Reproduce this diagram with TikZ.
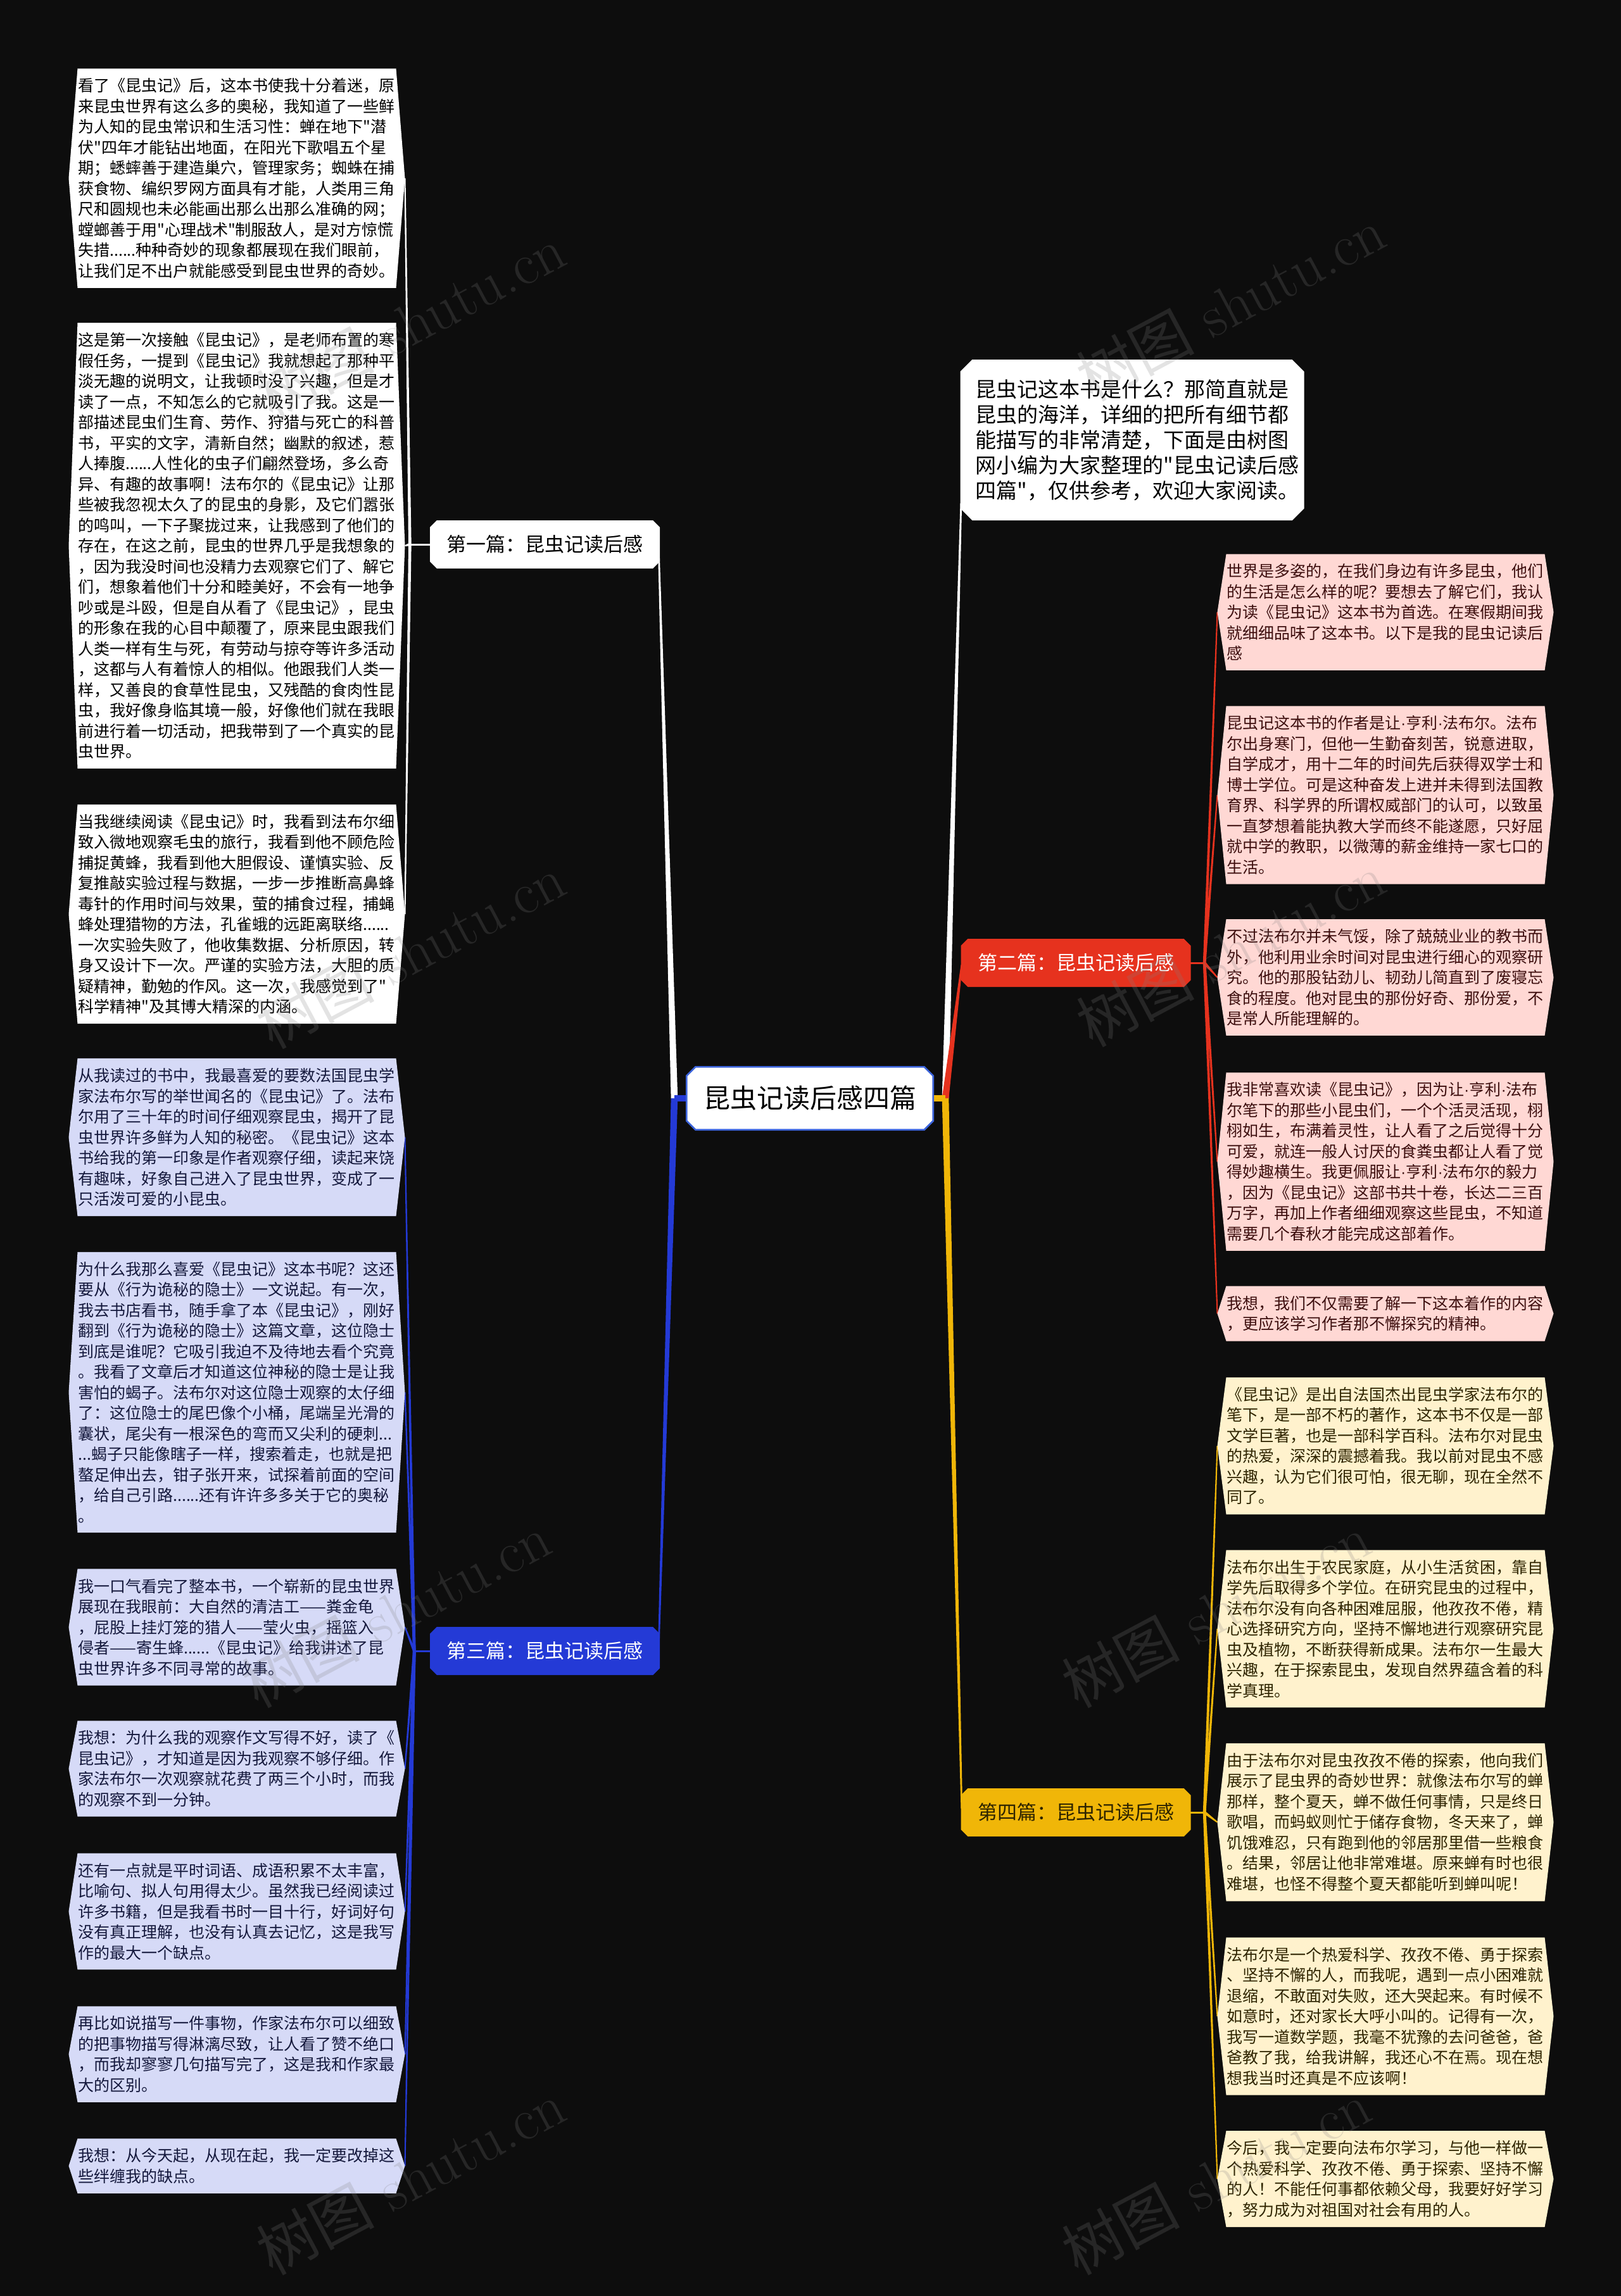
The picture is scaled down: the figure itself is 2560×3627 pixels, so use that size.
\documentclass[tikz,border=0pt]{standalone}
\usepackage{fontspec}
\newfontfamily\cjk{Noto Sans CJK SC}
\newfontfamily\latn{Liberation Sans}
\usetikzlibrary{calc}
\setlength\parindent{0pt}
\pgfdeclarelayer{bg}
\pgfdeclarelayer{shp}
\pgfsetlayers{bg,shp,main}
\definecolor{bgc}{RGB}{13,13,13}
\definecolor{redb}{RGB}{230,50,30}
\definecolor{redl}{RGB}{255,216,212}
\definecolor{redt}{RGB}{60,14,14}
\definecolor{blueb}{RGB}{36,58,214}
\definecolor{bluel}{RGB}{214,218,247}
\definecolor{bluet}{RGB}{20,24,60}
\definecolor{yelb}{RGB}{240,182,8}
\definecolor{yell}{RGB}{255,242,205}
\definecolor{yelt}{RGB}{46,36,0}
\definecolor{cborder}{RGB}{60,100,220}
\newcommand{\md}{{\latn ·}}
\newcommand{\hexfill}[2]{\fill[#2] ($(#1.north west)+(14,0)$) -- ($(#1.north east)+(-14,0)$) -- (#1.east) -- ($(#1.south east)+(-14,0)$) -- ($(#1.south west)+(14,0)$) -- (#1.west) -- cycle;}
\newcommand{\chamfill}[4]{\filldraw[fill=#2,draw=#3,line width=0.8pt] ($(#1.north west)+(#4,0)$) -- ($(#1.north east)+(-#4,0)$) -- ($(#1.north east)+(0,#4)$) -- ($(#1.south east)+(0,-#4)$) -- ($(#1.south east)+(-#4,0)$) -- ($(#1.south west)+(#4,0)$) -- ($(#1.south west)+(0,-#4)$) -- ($(#1.north west)+(0,#4)$) -- cycle;}
\newcommand{\mmtaper}[5]{\fill[#1] ($(#2)!#4!90:(#3)$) -- ($(#3)!#5!-90:(#2)$) -- ($(#3)!#5!90:(#2)$) -- ($(#2)!#4!-90:(#3)$) -- cycle;}
\begin{document}
\begin{tikzpicture}[x=0.3pt,y=-0.3pt,
  leaf/.style={inner xsep=4.2pt,inner ysep=4.4pt,text width=150.5pt,align=left,font=\cjk\fontsize{7.5pt}{9.75pt}\selectfont},
  lab/.style={inner sep=0pt,minimum width=107.7pt,minimum height=21.6pt,font=\cjk\fontsize{9.3pt}{11pt}\selectfont},
  ctrbox/.style={inner sep=0pt,minimum width=116.4pt,minimum height=29.4pt,font=\cjk\fontsize{12.6pt}{15pt}\selectfont,text=black},
  introbox/.style={inner xsep=6.6pt,inner ysep=8.5pt,text width=148.5pt,align=left,minimum height=75pt,font=\cjk\fontsize{9.9pt}{12pt}\selectfont,text=black},
  wm/.style={text=gray,opacity=0.22,font=\fontsize{28pt}{30pt}\selectfont,rotate=28}]
\useasboundingbox (0,0) rectangle (2560,3627);
\begin{pgfonlayer}{bg}
\fill[bgc] (0,0) rectangle (2560,3627);
\end{pgfonlayer}

% central and branch nodes
\node[ctrbox] (ctr) at (1279,1735) {昆虫记读后感四篇};
\node[introbox] (intro) at (1788,695) {昆虫记这本书是什么？那简直就是\\昆虫的海洋，详细的把所有细节都\\能描写的非常清楚，下面是由树图\\网小编为大家整理的"昆虫记读后感\\四篇"，仅供参考，欢迎大家阅读。};
\node[lab,text=black] (labA) at (860.5,860) {第一篇：昆虫记读后感};
\node[lab,text=white] (labB) at (1699,1521) {第二篇：昆虫记读后感};
\node[lab,text=white] (labC) at (860.5,2608) {第三篇：昆虫记读后感};
\node[lab,text=yelt] (labD) at (1699,2863) {第四篇：昆虫记读后感};

% first article leaves
\node[leaf,text=black] (L1) at (374,281.5) {看了《昆虫记》后，这本书使我十分着迷，原\\来昆虫世界有这么多的奥秘，我知道了一些鲜\\为人知的昆虫常识和生活习性：蝉在地下"潜\\伏"四年才能钻出地面，在阳光下歌唱五个星\\期；蟋蟀善于建造巢穴，管理家务；蜘蛛在捕\\获食物、编织罗网方面具有才能，人类用三角\\尺和圆规也未必能画出那么出那么准确的网；\\螳螂善于用"心理战术"制服敌人，是对方惊慌\\失措......种种奇妙的现象都展现在我们眼前，\\让我们足不出户就能感受到昆虫世界的奇妙。};
\node[leaf,text=black] (L2) at (374,862) {这是第一次接触《昆虫记》，是老师布置的寒\\假任务，一提到《昆虫记》我就想起了那种平\\淡无趣的说明文，让我顿时没了兴趣，但是才\\读了一点，不知怎么的它就吸引了我。这是一\\部描述昆虫们生育、劳作、狩猎与死亡的科普\\书，平实的文字，清新自然；幽默的叙述，惹\\人捧腹......人性化的虫子们翩然登场，多么奇\\异、有趣的故事啊！法布尔的《昆虫记》让那\\些被我忽视太久了的昆虫的身影，及它们嚣张\\的鸣叫，一下子聚拢过来，让我感到了他们的\\存在，在这之前，昆虫的世界几乎是我想象的\\，因为我没时间也没精力去观察它们了、解它\\们，想象着他们十分和睦美好，不会有一地争\\吵或是斗殴，但是自从看了《昆虫记》，昆虫\\的形象在我的心目中颠覆了，原来昆虫跟我们\\人类一样有生与死，有劳动与掠夺等许多活动\\，这都与人有着惊人的相似。他跟我们人类一\\样，又善良的食草性昆虫，又残酷的食肉性昆\\虫，我好像身临其境一般，好像他们就在我眼\\前进行着一切活动，把我带到了一个真实的昆\\虫世界。};
\node[leaf,text=black] (L3) at (374,1444) {当我继续阅读《昆虫记》时，我看到法布尔细\\致入微地观察毛虫的旅行，我看到他不顾危险\\捕捉黄蜂，我看到他大胆假设、谨慎实验、反\\复推敲实验过程与数据，一步一步推断高鼻蜂\\毒针的作用时间与效果，萤的捕食过程，捕蝇\\蜂处理猎物的方法，孔雀蛾的远距离联络......\\一次实验失败了，他收集数据、分析原因，转\\身又设计下一次。严谨的实验方法，大胆的质\\疑精神，勤勉的作风。这一次，我感觉到了"\\科学精神"及其博大精深的内涵。};

% third article leaves
\node[leaf,text=bluet] (B1) at (374,1796.5) {从我读过的书中，我最喜爱的要数法国昆虫学\\家法布尔写的举世闻名的《昆虫记》了。法布\\尔用了三十年的时间仔细观察昆虫，揭开了昆\\虫世界许多鲜为人知的秘密。《昆虫记》这本\\书给我的第一印象是作者观察仔细，读起来饶\\有趣味，好象自己进入了昆虫世界，变成了一\\只活泼可爱的小昆虫。};
\node[leaf,text=bluet] (B2) at (374,2199.5) {为什么我那么喜爱《昆虫记》这本书呢？这还\\要从《行为诡秘的隐士》一文说起。有一次，\\我去书店看书，随手拿了本《昆虫记》，刚好\\翻到《行为诡秘的隐士》这篇文章，这位隐士\\到底是谁呢？它吸引我迫不及待地去看个究竟\\。我看了文章后才知道这位神秘的隐士是让我\\害怕的蝎子。法布尔对这位隐士观察的太仔细\\了：这位隐士的尾巴像个小桶，尾端呈光滑的\\囊状，尾尖有一根深色的弯而又尖利的硬刺...\\...蝎子只能像瞎子一样，搜索着走，也就是把\\螯足伸出去，钳子张开来，试探着前面的空间\\，给自己引路......还有许许多多关于它的奥秘\\。};
\node[leaf,text=bluet] (B3) at (374,2570.5) {我一口气看完了整本书，一个崭新的昆虫世界\\展现在我眼前：大自然的清洁工——粪金龟\\，屁股上挂灯笼的猎人——莹火虫，摇篮入\\侵者——寄生蜂......《昆虫记》给我讲述了昆\\虫世界许多不同寻常的故事。};
\node[leaf,text=bluet] (B4) at (374,2794) {我想：为什么我的观察作文写得不好，读了《\\昆虫记》，才知道是因为我观察不够仔细。作\\家法布尔一次观察就花费了两三个小时，而我\\的观察不到一分钟。};
\node[leaf,text=bluet] (B5) at (374,3019.5) {还有一点就是平时词语、成语积累不太丰富，\\比喻句、拟人句用得太少。虽然我已经阅读过\\许多书籍，但是我看书时一目十行，好词好句\\没有真正理解，也没有认真去记忆，这是我写\\作的最大一个缺点。};
\node[leaf,text=bluet] (B6) at (374,3245) {再比如说描写一件事物，作家法布尔可以细致\\的把事物描写得淋漓尽致，让人看了赞不绝口\\，而我却寥寥几句描写完了，这是我和作家最\\大的区别。};
\node[leaf,text=bluet] (B7) at (374,3421.5) {我想：从今天起，从现在起，我一定要改掉这\\些绊缠我的缺点。};

% second article leaves
\node[leaf,text=redt] (R1) at (2188,967) {世界是多姿的，在我们身边有许多昆虫，他们\\的生活是怎么样的呢？要想去了解它们，我认\\为读《昆虫记》这本书为首选。在寒假期间我\\就细细品味了这本书。以下是我的昆虫记读后\\感};
\node[leaf,text=redt] (R2) at (2188,1256) {昆虫记这本书的作者是让\md 亨利\md 法布尔。法布\\尔出身寒门，但他一生勤奋刻苦，锐意进取，\\自学成才，用十二年的时间先后获得双学士和\\博士学位。可是这种奋发上进并未得到法国教\\育界、科学界的所谓权威部门的认可，以致虽\\一直梦想着能执教大学而终不能遂愿，只好屈\\就中学的教职，以微薄的薪金维持一家七口的\\生活。};
\node[leaf,text=redt] (R3) at (2188,1544) {不过法布尔并未气馁，除了兢兢业业的教书而\\外，他利用业余时间对昆虫进行细心的观察研\\究。他的那股钻劲儿、韧劲儿简直到了废寝忘\\食的程度。他对昆虫的那份好奇、那份爱，不\\是常人所能理解的。};
\node[leaf,text=redt] (R4) at (2188,1835) {我非常喜欢读《昆虫记》，因为让\md 亨利\md 法布\\尔笔下的那些小昆虫们，一个个活灵活现，栩\\栩如生，布满着灵性，让人看了之后觉得十分\\可爱，就连一般人讨厌的食粪虫都让人看了觉\\得妙趣横生。我更佩服让\md 亨利\md 法布尔的毅力\\，因为《昆虫记》这部书共十卷，长达二三百\\万字，再加上作者细细观察这些昆虫，不知道\\需要几个春秋才能完成这部着作。};
\node[leaf,text=redt] (R5) at (2188,2075) {我想，我们不仅需要了解一下这本着作的内容\\，更应该学习作者那不懈探究的精神。};

% fourth article leaves
\node[leaf,text=yelt] (Y1) at (2188,2284) {《昆虫记》是出自法国杰出昆虫学家法布尔的\\笔下，是一部不朽的著作，这本书不仅是一部\\文学巨著，也是一部科学百科。法布尔对昆虫\\的热爱，深深的震撼着我。我以前对昆虫不感\\兴趣，认为它们很可怕，很无聊，现在全然不\\同了。};
\node[leaf,text=yelt] (Y2) at (2188,2573) {法布尔出生于农民家庭，从小生活贫困，靠自\\学先后取得多个学位。在研究昆虫的过程中，\\法布尔没有向各种困难屈服，他孜孜不倦，精\\心选择研究方向，坚持不懈地进行观察研究昆\\虫及植物，不断获得新成果。法布尔一生最大\\兴趣，在于探索昆虫，发现自然界蕴含着的科\\学真理。};
\node[leaf,text=yelt] (Y3) at (2188,2878.5) {由于法布尔对昆虫孜孜不倦的探索，他向我们\\展示了昆虫界的奇妙世界：就像法布尔写的蝉\\那样，整个夏天，蝉不做任何事情，只是终日\\歌唱，而蚂蚁则忙于储存食物，冬天来了，蝉\\饥饿难忍，只有跑到他的邻居那里借一些粮食\\。结果，邻居让他非常难堪。原来蝉有时也很\\难堪，也怪不得整个夏天都能听到蝉叫呢！};
\node[leaf,text=yelt] (Y4) at (2188,3185) {法布尔是一个热爱科学、孜孜不倦、勇于探索\\、坚持不懈的人，而我呢，遇到一点小困难就\\退缩，不敢面对失败，还大哭起来。有时候不\\如意时，还对家长大呼小叫的。记得有一次，\\我写一道数学题，我毫不犹豫的去问爸爸，爸\\爸教了我，给我讲解，我还心不在焉。现在想\\想我当时还真是不应该啊！};
\node[leaf,text=yelt] (Y5) at (2188,3442) {今后，我一定要向法布尔学习，与他一样做一\\个热爱科学、孜孜不倦、勇于探索、坚持不懈\\的人！不能任何事都依赖父母，我要好好学习\\，努力成为对祖国对社会有用的人。};

% hubs and connector ends
\coordinate (hubL) at (1065,1735);
\coordinate (hubR) at (1493,1735);
\coordinate (pA) at ($(labA.east)+(0,22)$);
\coordinate (pC) at ($(labC.east)+(0,-20)$);
\coordinate (pB) at ($(labB.west)+(0,3)$);
\coordinate (pD) at ($(labD.west)+(0,-6)$);
\coordinate (pI) at ($(intro.west)+(0,100)$);
\coordinate (hA) at ($(labA.west)+(-33,0)$);
\coordinate (hC) at ($(labC.west)+(-26,0)$);
\coordinate (hB) at ($(labB.east)+(23,0)$);
\coordinate (hD) at ($(labD.east)+(23,0)$);

% shapes
\begin{pgfonlayer}{shp}
\chamfill{ctr}{white}{cborder}{14}
\chamfill{intro}{white}{white}{18}
\chamfill{labA}{white}{white}{10}
\chamfill{labB}{redb}{redb}{10}
\chamfill{labC}{blueb}{blueb}{10}
\chamfill{labD}{yelb}{yelb}{10}
\hexfill{L1}{white}\hexfill{L2}{white}\hexfill{L3}{white}
\hexfill{B1}{bluel}\hexfill{B2}{bluel}\hexfill{B3}{bluel}\hexfill{B4}{bluel}\hexfill{B5}{bluel}\hexfill{B6}{bluel}\hexfill{B7}{bluel}
\hexfill{R1}{redl}\hexfill{R2}{redl}\hexfill{R3}{redl}\hexfill{R4}{redl}\hexfill{R5}{redl}
\hexfill{Y1}{yell}\hexfill{Y2}{yell}\hexfill{Y3}{yell}\hexfill{Y4}{yell}\hexfill{Y5}{yell}
\end{pgfonlayer}

% connectors
\begin{pgfonlayer}{bg}
\mmtaper{white}{hubL}{pA}{1.6pt}{0.4pt}
\mmtaper{blueb}{hubL}{pC}{1.6pt}{0.4pt}
\draw[blueb,line width=3pt] (ctr.west) -- (hubL);
\mmtaper{white}{hubR}{pI}{1.6pt}{0.4pt}
\mmtaper{redb}{hubR}{pB}{1.6pt}{0.4pt}
\mmtaper{yelb}{hubR}{pD}{1.6pt}{0.4pt}
\draw[yelb,line width=3pt] (ctr.east) -- (hubR);
\draw[white,line width=0.9pt] (labA.west) -- (hA);
\draw[blueb,line width=0.9pt] (labC.west) -- (hC);
\draw[redb,line width=0.9pt] (labB.east) -- (hB);
\draw[yelb,line width=0.9pt] (labD.east) -- (hD);
\foreach \n in {L1,L2,L3}{\mmtaper{white}{hA}{\n.east}{0.7pt}{0.3pt}}
\foreach \n in {B1,B2,B3,B4,B5,B6,B7}{\mmtaper{blueb}{hC}{\n.east}{0.7pt}{0.3pt}}
\foreach \n in {R1,R2,R3,R4,R5}{\mmtaper{redb}{hB}{\n.west}{0.7pt}{0.3pt}}
\foreach \n in {Y1,Y2,Y3,Y4,Y5}{\mmtaper{yelb}{hD}{\n.west}{0.7pt}{0.3pt}}
\end{pgfonlayer}

% watermarks
\node[wm] (wm1) at (648,509) {{\cjk 树图} shutu.cn};
\node[wm] (wm2) at (648,1503) {{\cjk 树图} shutu.cn};
\node[wm] (wm3) at (625,2544) {{\cjk 树图} shutu.cn};
\node[wm] (wm4) at (648,3440) {{\cjk 树图} shutu.cn};
\node[wm] (wm5) at (1943,480) {{\cjk 树图} shutu.cn};
\node[wm] (wm6) at (1943,1500) {{\cjk 树图} shutu.cn};
\node[wm] (wm7) at (1920,2544) {{\cjk 树图} shutu.cn};
\node[wm] (wm8) at (1920,3440) {{\cjk 树图} shutu.cn};
\end{tikzpicture}
\end{document}
